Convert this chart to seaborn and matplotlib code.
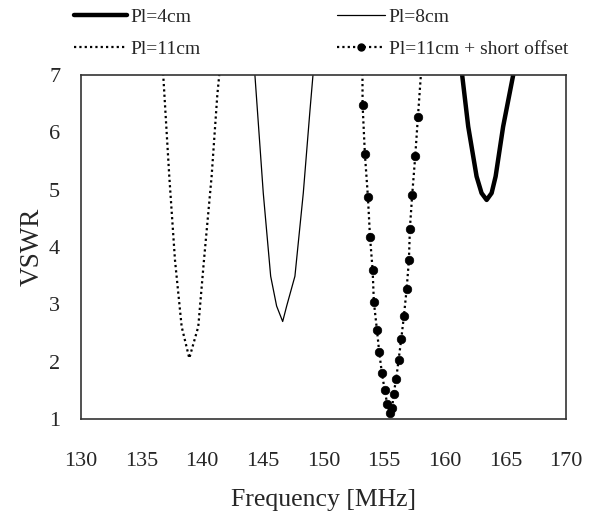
import numpy as np
import pandas as pd
import matplotlib.pyplot as plt
import seaborn as sns
from matplotlib.lines import Line2D

# Pl=4cm
freq_4 = [161.25, 161.43, 161.93, 162.62, 163.03, 163.45, 163.86, 164.19, 164.81, 165.64, 165.80]
vswr_4 = [7.6, 7.0, 6.10, 5.23, 4.94, 4.82, 4.94, 5.23, 6.10, 7.0, 7.6]

# Pl=8cm
freq_8 = [144.25, 144.34, 145.03, 145.64, 146.13, 146.63, 146.96, 147.64, 148.33, 148.88, 149.13, 149.25]
vswr_8 = [7.4, 7.0, 4.94, 3.49, 2.97, 2.70, 2.97, 3.49, 4.94, 6.38, 7.0, 7.4]

# Pl=11cm
freq_11 = [136.7, 136.78, 137.28, 137.75, 138.30, 138.93, 139.67, 140.14, 140.77, 141.24, 141.40, 141.48]
vswr_11 = [7.4, 7.0, 5.23, 3.77, 2.61, 2.06, 2.61, 3.77, 5.23, 6.65, 7.0, 7.4]

# Pl=11cm + short offset (measured points)
freq_off = [153.22, 153.41, 153.66, 153.83, 154.05, 154.15, 154.40, 154.59, 154.81, 155.04,
            155.25, 155.47, 155.66, 155.78, 155.99, 156.19, 156.41, 156.63, 156.85, 157.04,
            157.12, 157.31, 157.56, 157.78]
vswr_off = [6.48, 5.62, 4.87, 4.18, 3.59, 3.04, 2.56, 2.17, 1.80, 1.51,
            1.26, 1.10, 1.20, 1.44, 1.70, 2.03, 2.40, 2.80, 3.26, 3.77,
            4.32, 4.91, 5.58, 6.26]
# line continues past the top of the axes
freq_off_ends = [153.20, 158.16]
vswr_off_ends = [7.4, 7.4]

sns.set_style("white")
plt.rcParams['font.family'] = ['Liberation Serif', 'DejaVu Serif']

fig = plt.figure(figsize=(5.93, 5.17), dpi=100)
ax = fig.add_axes([0.1366, 0.1896, 0.818, 0.6654])

dots = (0, (1.0, 1.4))
sns.lineplot(x=freq_4, y=vswr_4, ax=ax, color='black', lw=3.2, sort=False)
sns.lineplot(x=freq_8, y=vswr_8, ax=ax, color='black', lw=0.9, sort=False)
sns.lineplot(x=freq_11, y=vswr_11, ax=ax, color='black', lw=1.6, linestyle=dots, sort=False)

line_x = [freq_off_ends[0]] + freq_off + [freq_off_ends[1]]
line_y = [vswr_off_ends[0]] + vswr_off + [vswr_off_ends[1]]
sns.lineplot(x=line_x, y=line_y, ax=ax, color='black', lw=1.6, linestyle=dots, sort=False)
sns.scatterplot(x=freq_off, y=vswr_off, ax=ax, color='black', s=38, edgecolor='black', zorder=5)

ax.set_xlim(130, 170)
ax.set_ylim(1, 7)
ax.set_xticks(np.arange(130, 171, 5))
ax.set_yticks(np.arange(1, 8, 1))
ax.tick_params(axis='both', direction='in', labelsize=16, color='#333333')
ax.tick_params(axis='x', length=6, pad=24)
ax.tick_params(axis='y', length=5, pad=15)
for s in ax.spines.values():
    s.set_color('#333333')
    s.set_linewidth(1.2)
ax.set_xlabel('Frequency [MHz]', fontsize=18.5, labelpad=13)
ax.set_ylabel('VSWR', fontsize=19.5, labelpad=3)

leg_kw = dict(loc='upper left', frameon=False, fontsize=14, handlelength=2.7,
              handletextpad=0.2, labelspacing=0.75, borderpad=0, borderaxespad=0)
leg1 = fig.legend([Line2D([], [], color='black', lw=3.2),
                   Line2D([], [], color='black', lw=1.6, linestyle=dots)],
                  ['Pl=4cm', 'Pl=11cm'], bbox_to_anchor=(74 / 593, 1 - 8 / 517), **leg_kw)
leg2 = fig.legend([Line2D([], [], color='black', lw=0.9),
                   Line2D([], [], color='black', lw=1.6, linestyle=dots, marker='o', markersize=5)],
                  ['Pl=8cm', 'Pl=11cm + short offset'],
                  bbox_to_anchor=(337 / 593, 1 - 8 / 517), **dict(leg_kw, handlelength=2.45))

fig.savefig('out.png', dpi=100)
